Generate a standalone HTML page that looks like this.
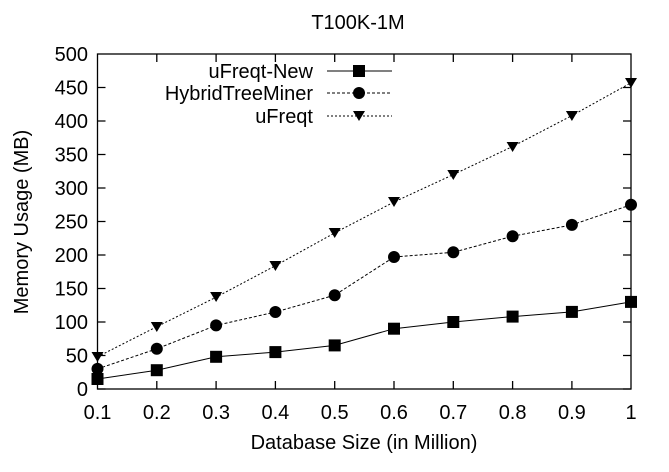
<!DOCTYPE html>
<html><head><style>body{margin:0;background:#fff}</style></head><body>
<svg width="669" height="467" xmlns="http://www.w3.org/2000/svg" font-family="Liberation Sans, sans-serif" font-size="20" fill="#000">
<text x="358" y="29" text-anchor="middle">T100K-1M</text>
<g stroke="#000" stroke-width="1.3" fill="none">
<rect x="97.5" y="54" width="533.5" height="335"/>
<path d="M97.5 389h8M97.5 355.5h8M97.5 322h8M97.5 288.5h8M97.5 255h8M97.5 221.5h8M97.5 188h8M97.5 154.5h8M97.5 121h8M97.5 87.5h8"/>
<path d="M631 389h-8M631 355.5h-8M631 322h-8M631 288.5h-8M631 255h-8M631 221.5h-8M631 188h-8M631 154.5h-8M631 121h-8M631 87.5h-8"/>
<path d="M156.8 389v-8M216.1 389v-8M275.4 389v-8M334.7 389v-8M394 389v-8M453.3 389v-8M512.6 389v-8M571.9 389v-8"/>
<path d="M156.8 54v8M216.1 54v8M275.4 54v8M334.7 54v8M394 54v8M453.3 54v8M512.6 54v8M571.9 54v8"/>
</g>
<g text-anchor="end">
<text x="88" y="396">0</text><text x="88" y="362.5">50</text><text x="88" y="329">100</text><text x="88" y="295.5">150</text><text x="88" y="262">200</text><text x="88" y="228.5">250</text><text x="88" y="195">300</text><text x="88" y="161.5">350</text><text x="88" y="128">400</text><text x="88" y="94.5">450</text><text x="88" y="61">500</text>
</g>
<g text-anchor="middle">
<text x="97.5" y="419">0.1</text><text x="156.8" y="419">0.2</text><text x="216.1" y="419">0.3</text><text x="275.4" y="419">0.4</text><text x="334.7" y="419">0.5</text><text x="394" y="419">0.6</text><text x="453.3" y="419">0.7</text><text x="512.6" y="419">0.8</text><text x="571.9" y="419">0.9</text><text x="631" y="419">1</text>
<text x="364" y="449">Database Size (in Million)</text>
<text transform="translate(28,222) rotate(-90)">Memory Usage (MB)</text>
</g>
<g text-anchor="end">
<text x="313" y="78">uFreqt-New</text>
<text x="313" y="100">HybridTreeMiner</text>
<text x="313" y="123">uFreqt</text>
</g>
<g stroke="#000" fill="none" stroke-width="1">
<path d="M327 71H392"/>
<path d="M327 93H392" stroke-dasharray="3,2"/>
<path d="M327 116H392" stroke-dasharray="2,2"/>
<polyline points="97.5,379 156.8,370.2 216.1,356.8 275.4,352.1 334.7,345.4 394,328.7 453.3,322 512.6,316.6 571.9,311.9 631,301.9"/>
<polyline stroke-dasharray="3,2" points="97.5,368.9 156.8,348.8 216.1,325.4 275.4,312 334.7,295.2 394,257 453.3,252.3 512.6,236.2 571.9,224.9 631,204.8"/>
<polyline stroke-dasharray="2,2" points="97.5,356.8 156.8,326.7 216.1,297.2 275.4,265.7 334.7,232.9 394,202 453.3,174.6 512.6,146.5 571.9,115.6 631,82.8"/>
</g>
<g>
<rect x="353" y="65" width="12" height="12"/>
<circle cx="359" cy="93" r="6"/>
<path d="M353 111h12l-6 10z"/>
<rect x="91.5" y="373" width="12" height="12"/><rect x="150.8" y="364.2" width="12" height="12"/><rect x="210.1" y="350.8" width="12" height="12"/><rect x="269.4" y="346.1" width="12" height="12"/><rect x="328.7" y="339.4" width="12" height="12"/><rect x="388" y="322.7" width="12" height="12"/><rect x="447.3" y="316" width="12" height="12"/><rect x="506.6" y="310.6" width="12" height="12"/><rect x="565.9" y="305.9" width="12" height="12"/><rect x="625" y="295.9" width="12" height="12"/>
<circle cx="97.5" cy="368.9" r="6"/><circle cx="156.8" cy="348.8" r="6"/><circle cx="216.1" cy="325.4" r="6"/><circle cx="275.4" cy="312" r="6"/><circle cx="334.7" cy="295.2" r="6"/><circle cx="394" cy="257" r="6"/><circle cx="453.3" cy="252.3" r="6"/><circle cx="512.6" cy="236.2" r="6"/><circle cx="571.9" cy="224.9" r="6"/><circle cx="631" cy="204.8" r="6"/>
<path d="M91.5 352h12l-6 10zM150.8 322h12l-6 10zM210.1 292h12l-6 10zM269.4 261h12l-6 10zM328.7 228h12l-6 10zM388 197h12l-6 10zM447.3 170h12l-6 10zM506.6 142h12l-6 10zM565.9 111h12l-6 10zM625 78h12l-6 10z"/>
</g>
</svg>
</body></html>
